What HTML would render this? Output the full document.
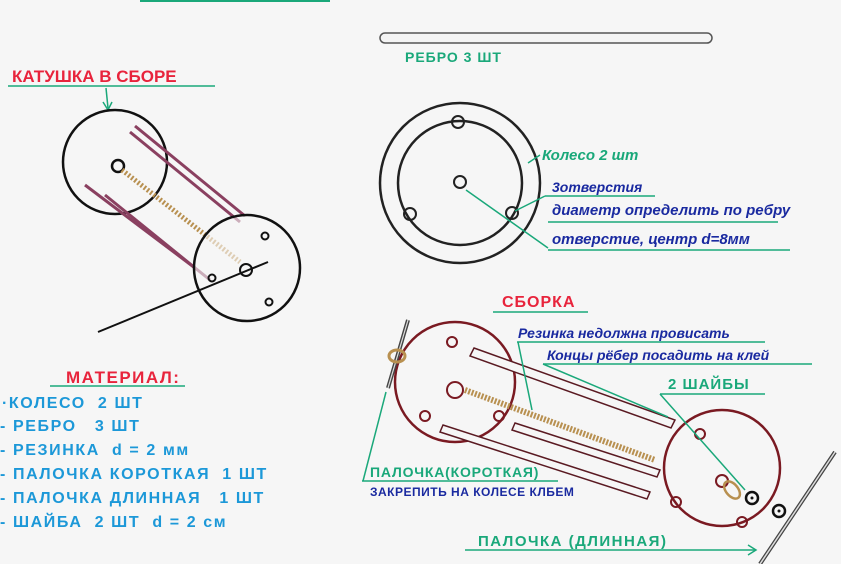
<!DOCTYPE html>
<html><head><meta charset="utf-8"><style>
html,body{margin:0;padding:0;background:#f6f6f6}
svg{display:block}
text{font-family:"Liberation Sans",sans-serif;white-space:pre}
.g{fill:#1aa87a}.r{fill:#e8243c}.b{fill:#1a2aa0}.c{fill:#1c98d8}
</style></head><body>
<svg width="841" height="564" viewBox="0 0 841 564" xmlns="http://www.w3.org/2000/svg">
<rect width="841" height="564" fill="#f6f6f6"/>
<line x1="140" y1="1" x2="330" y2="1" stroke="#1aa87a" stroke-width="2"/>
<rect x="380" y="33" width="332" height="10" rx="5" fill="#f4f4f4" stroke="#555" stroke-width="1.5"/>
<text x="405" y="62" class="g" font-size="14" font-weight="bold" letter-spacing="1">РЕБРО 3 ШТ</text>
<text x="12" y="82" class="r" font-size="17" font-weight="bold">КАТУШКА В СБОРЕ</text>
<line x1="8" y1="86" x2="215" y2="86" stroke="#1aa87a" stroke-width="1.5"/>
<line x1="106" y1="88" x2="108" y2="108" stroke="#1aa87a" stroke-width="1.5"/>
<path d="M103 102 L108 110 L112 102" fill="none" stroke="#1aa87a" stroke-width="1.5"/>
<circle cx="115" cy="162" r="52" fill="none" stroke="#111" stroke-width="2.5"/>
<circle cx="118" cy="166" r="6" fill="none" stroke="#111" stroke-width="2.5"/>
<g stroke="#8a4060" stroke-width="3" fill="none">
<line x1="130" y1="132" x2="240" y2="222"/><line x1="135" y1="126" x2="245" y2="216"/>
<line x1="85" y1="185" x2="195" y2="268"/><line x1="105" y1="195" x2="210" y2="280"/>
</g>
<line x1="122" y1="170" x2="240" y2="262" stroke="#b89050" stroke-width="5" stroke-dasharray="2 2"/>
<circle cx="247" cy="268" r="53" fill="#f6f6f6" fill-opacity="0.6" stroke="#111" stroke-width="2.5"/>
<circle cx="265" cy="236" r="3.5" fill="none" stroke="#111" stroke-width="2"/>
<circle cx="212" cy="278" r="3.5" fill="none" stroke="#111" stroke-width="2"/>
<circle cx="269" cy="302" r="3.5" fill="none" stroke="#111" stroke-width="2"/>
<circle cx="246" cy="270" r="6" fill="none" stroke="#111" stroke-width="2"/>
<line x1="98" y1="332" x2="268" y2="262" stroke="#111" stroke-width="2"/>
<circle cx="460" cy="183" r="80" fill="none" stroke="#222" stroke-width="2.5"/>
<circle cx="460" cy="183" r="62" fill="none" stroke="#222" stroke-width="2.5"/>
<circle cx="458" cy="122" r="6" fill="none" stroke="#222" stroke-width="2"/>
<circle cx="410" cy="214" r="6" fill="none" stroke="#222" stroke-width="2"/>
<circle cx="512" cy="213" r="6" fill="none" stroke="#222" stroke-width="2"/>
<circle cx="460" cy="182" r="6" fill="none" stroke="#222" stroke-width="2"/>
<line x1="540" y1="155" x2="528" y2="163" stroke="#1aa87a" stroke-width="1.5"/>
<text x="542" y="160" class="g" font-size="15" font-style="italic" font-weight="bold">Колесо 2 шт</text>
<text x="552" y="192" class="b" font-size="14" font-style="italic" font-weight="bold">3отверстия</text>
<line x1="545" y1="196" x2="655" y2="196" stroke="#1aa87a" stroke-width="1.5"/>
<text x="552" y="215" class="b" font-size="15" font-style="italic" font-weight="bold">диаметр определить по ребру</text>
<line x1="548" y1="222" x2="778" y2="222" stroke="#1aa87a" stroke-width="1.5"/>
<text x="552" y="244" class="b" font-size="15" font-style="italic" font-weight="bold">отверстие, центр d=8мм</text>
<line x1="548" y1="250" x2="790" y2="250" stroke="#1aa87a" stroke-width="1.5"/>
<line x1="548" y1="248" x2="466" y2="190" stroke="#1aa87a" stroke-width="1.5"/>
<line x1="545" y1="196" x2="515" y2="211" stroke="#1aa87a" stroke-width="1.5"/>
<text x="502" y="307" class="r" font-size="16" font-weight="bold" letter-spacing="1">СБОРКА</text>
<line x1="493" y1="312" x2="588" y2="312" stroke="#1aa87a" stroke-width="1.5"/>
<circle cx="455" cy="382" r="60" fill="none" stroke="#7a1a22" stroke-width="2.5"/>
<circle cx="455" cy="390" r="8" fill="none" stroke="#7a1a22" stroke-width="2"/>
<circle cx="452" cy="342" r="5" fill="none" stroke="#7a1a22" stroke-width="2"/>
<circle cx="425" cy="416" r="5" fill="none" stroke="#7a1a22" stroke-width="2"/>
<circle cx="499" cy="416" r="5" fill="none" stroke="#7a1a22" stroke-width="2"/>
<g fill="#f6f6f6" stroke="#5a1a22" stroke-width="1.5">
<path d="M474 348 L675 420 L671 428 L470 356 Z"/>
<path d="M443 425 L650 492 L647 499 L440 432 Z"/>
<path d="M515 423 L660 470 L657 477 L512 430 Z"/>
</g>
<line x1="465" y1="390" x2="655" y2="460" stroke="#b89050" stroke-width="6" stroke-dasharray="2 1.5"/>
<circle cx="722" cy="468" r="58" fill="none" stroke="#7a1a22" stroke-width="2.5"/>
<circle cx="700" cy="434" r="5" fill="none" stroke="#7a1a22" stroke-width="2"/>
<circle cx="676" cy="502" r="5" fill="none" stroke="#7a1a22" stroke-width="2"/>
<circle cx="742" cy="522" r="5" fill="none" stroke="#7a1a22" stroke-width="2"/>
<circle cx="722" cy="481" r="6" fill="none" stroke="#7a1a22" stroke-width="2"/>
<ellipse cx="732" cy="490" rx="6" ry="10" transform="rotate(-40 732 490)" fill="none" stroke="#b89050" stroke-width="2.5"/>
<circle cx="752" cy="498" r="6" fill="none" stroke="#111" stroke-width="2.5"/>
<circle cx="752" cy="498" r="1.5" fill="#111"/>
<circle cx="779" cy="511" r="6" fill="none" stroke="#111" stroke-width="2.5"/>
<circle cx="779" cy="511" r="1.5" fill="#111"/>
<line x1="760" y1="564" x2="835" y2="452" stroke="#444" stroke-width="4"/>
<line x1="760" y1="564" x2="835" y2="452" stroke="#ddd" stroke-width="1.5"/>
<line x1="388" y1="388" x2="408" y2="320" stroke="#444" stroke-width="4"/>
<line x1="388" y1="388" x2="408" y2="320" stroke="#ddd" stroke-width="1.2"/>
<ellipse cx="397" cy="356" rx="8" ry="6" fill="none" stroke="#b89050" stroke-width="3"/>
<text x="518" y="338" class="b" font-size="14" font-style="italic" font-weight="bold">Резинка недолжна провисать</text>
<line x1="517" y1="342" x2="765" y2="342" stroke="#1aa87a" stroke-width="1.5"/>
<line x1="518" y1="342" x2="532" y2="410" stroke="#1aa87a" stroke-width="1.5"/>
<text x="547" y="360" class="b" font-size="14" font-style="italic" font-weight="bold">Концы рёбер посадить на клей</text>
<line x1="543" y1="364" x2="812" y2="364" stroke="#1aa87a" stroke-width="1.5"/>
<line x1="543" y1="364" x2="668" y2="417" stroke="#1aa87a" stroke-width="1.5"/>
<text x="668" y="389" class="g" font-size="15" font-weight="bold" letter-spacing="1">2 ШАЙБЫ</text>
<line x1="660" y1="394" x2="765" y2="394" stroke="#1aa87a" stroke-width="1.5"/>
<line x1="660" y1="394" x2="745" y2="490" stroke="#1aa87a" stroke-width="1.5"/>
<text x="370" y="477" class="g" font-size="14" font-weight="bold" letter-spacing="0.8">ПАЛОЧКА(КОРОТКАЯ)</text>
<line x1="362" y1="481" x2="558" y2="481" stroke="#1aa87a" stroke-width="1.5"/>
<line x1="363" y1="481" x2="386" y2="392" stroke="#1aa87a" stroke-width="1.5"/>
<text x="370" y="496" class="b" font-size="12" font-weight="bold" letter-spacing="0.5">ЗАКРЕПИТЬ НА КОЛЕСЕ КЛБЕМ</text>
<text x="478" y="546" class="g" font-size="15" font-weight="bold" letter-spacing="1.5">ПАЛОЧКА (ДЛИННАЯ)</text>
<line x1="465" y1="550" x2="755" y2="550" stroke="#1aa87a" stroke-width="1.5"/>
<path d="M748 545 L756 550 L748 555" fill="none" stroke="#1aa87a" stroke-width="1.5"/>
<text x="66" y="383" class="r" font-size="17" font-weight="bold" letter-spacing="1.5">МАТЕРИАЛ:</text>
<line x1="50" y1="386" x2="185" y2="386" stroke="#1aa87a" stroke-width="1.5"/>
<g class="c" font-size="16" font-weight="bold" letter-spacing="1.6">
<text x="2" y="408">·КОЛЕСО  2 ШТ</text>
<text x="0" y="431">- РЕБРО   3 ШТ</text>
<text x="0" y="455">- РЕЗИНКА  d = 2 мм</text>
<text x="0" y="479">- ПАЛОЧКА КОРОТКАЯ  1 ШТ</text>
<text x="0" y="503">- ПАЛОЧКА ДЛИННАЯ   1 ШТ</text>
<text x="0" y="527">- ШАЙБА  2 ШТ  d = 2 см</text>
</g>
</svg>
</body></html>
